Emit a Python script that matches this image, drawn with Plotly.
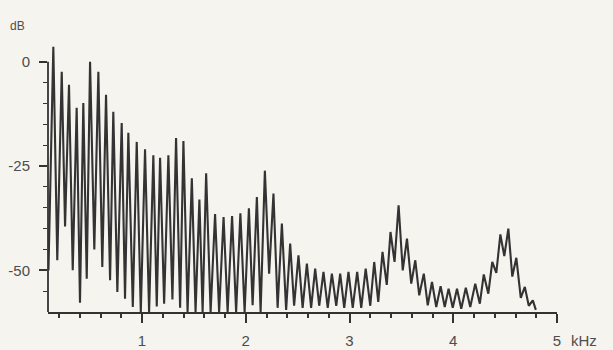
import plotly.graph_objects as go

# Harmonic peaks (frequency in kHz, level in dB)
peak_khz = [0.145, 0.226, 0.296, 0.370, 0.434, 0.499, 0.579, 0.653, 0.723, 0.804,
            0.868, 0.949, 1.029, 1.109, 1.174, 1.254, 1.328, 1.399, 1.480, 1.553,
            1.618, 1.704, 1.786, 1.868, 1.948, 2.030, 2.107, 2.184, 2.267, 2.348,
            2.428, 2.508, 2.589, 2.669, 2.749, 2.830, 2.910, 2.990, 3.074, 3.156,
            3.238, 3.318, 3.395, 3.473, 3.554, 3.634, 3.716, 3.795, 3.878, 3.955,
            4.036, 4.121, 4.212, 4.294, 4.376, 4.454, 4.531, 4.608, 4.690, 4.767]
peak_db = [3.6, -2.4, -5.5, -11.0, -9.9, 0.0, -2.4, -7.9, -12.0, -14.7,
           -17.0, -19.2, -21.0, -22.4, -23.0, -22.4, -18.3, -19.0, -27.9, -33.0,
           -26.7, -36.5, -37.2, -37.0, -36.3, -35.1, -32.4, -26.1, -31.6, -38.8,
           -43.6, -46.4, -48.4, -49.6, -50.4, -50.8, -50.8, -50.4, -50.4, -49.6,
           -48.0, -45.6, -40.8, -34.4, -42.4, -47.6, -50.8, -52.8, -53.8, -54.4,
           -54.4, -54.2, -53.2, -51.0, -48.0, -41.4, -40.0, -47.0, -54.0, -57.2]

# Valleys between the harmonics
trough_khz = [0.098, 0.183, 0.258, 0.332, 0.402, 0.467, 0.540, 0.617, 0.692, 0.762,
              0.836, 0.911, 0.988, 1.068, 1.142, 1.213, 1.293, 1.367, 1.439, 1.516,
              1.584, 1.661, 1.743, 1.825, 1.907, 1.989, 2.066, 2.143, 2.225, 2.307,
              2.389, 2.466, 2.548, 2.630, 2.708, 2.790, 2.872, 2.949, 3.031, 3.113,
              3.200, 3.277, 3.359, 3.434, 3.513, 3.595, 3.672, 3.754, 3.836, 3.918,
              3.995, 4.077, 4.164, 4.256, 4.338, 4.415, 4.492, 4.569, 4.651, 4.728,
              4.796]
trough_db = [-50.0, -47.6, -39.5, -50.0, -57.8, -52.0, -45.0, -49.2, -52.4, -55.2,
             -56.8, -58.8, -60.0, -60.0, -58.7, -58.0, -57.0, -59.0, -60.0, -60.0,
             -60.0, -60.0, -60.0, -60.0, -60.0, -60.0, -58.4, -60.0, -50.8, -59.0,
             -59.5, -58.5, -59.0, -59.0, -58.5, -59.0, -58.5, -59.0, -59.0, -59.0,
             -58.5, -57.6, -53.5, -48.0, -50.0, -53.2, -56.0, -58.4, -58.8, -58.8,
             -59.0, -59.2, -58.8, -58.0, -55.6, -50.6, -46.6, -51.5, -56.6, -58.5,
             -59.5]

x_tick_vals = [1, 2, 3, 4, 5]
x_tick_text = ["1", "2", "3", "4", "5"]
y_tick_vals = [0, -25, -50]
y_tick_text = ["0", "-25", "-50"]
y_minor_vals = [-5, -10, -15, -20, -30, -35, -40, -45, -55]

pts = sorted(zip(peak_khz + trough_khz, peak_db + trough_db))
xs = [p[0] for p in pts]
ys = [p[1] for p in pts]

INK = "#333333"
TXT = "#4d4d4d"
BG = "#f5f4ef"
FONT = "Liberation Sans, Arial, sans-serif"

fig = go.Figure()
fig.add_trace(go.Scatter(x=xs, y=ys, mode="lines",
                         line=dict(color=INK, width=2.1),
                         hoverinfo="skip", showlegend=False))

fig.update_layout(
    width=613, height=350,
    margin=dict(l=48, r=56, t=41, b=38),
    paper_bgcolor=BG, plot_bgcolor=BG,
    font=dict(family=FONT, size=15, color=TXT),
    showlegend=False,
)
fig.update_xaxes(
    range=[0.0936, 5.0], showgrid=False, zeroline=False, automargin=False,
    showline=True, linecolor=INK, linewidth=1.8,
    tickvals=x_tick_vals, ticktext=x_tick_text,
    ticks="outside", ticklen=9, tickwidth=1.5, tickcolor=INK,
    ticklabelstandoff=5,
    minor=dict(dtick=0.2, tick0=0, ticks="outside", ticklen=4,
               tickwidth=1.5, tickcolor=INK, showgrid=False),
)
fig.update_yaxes(
    range=[-60, 5], showgrid=False, zeroline=False, showline=False, automargin=False,
    tickvals=y_tick_vals, ticktext=y_tick_text,
    ticks="outside", ticklen=8, tickwidth=1.5, tickcolor=INK,
    ticklabelstandoff=6,
    minor=dict(tickvals=y_minor_vals, ticks="outside", ticklen=4,
               tickwidth=1.2, tickcolor=INK, showgrid=False),
)
# vertical axis line only from -60 dB up to 0 dB
fig.add_shape(type="line", xref="paper", yref="y", x0=0, x1=0,
              y0=-60, y1=0, line=dict(color=INK, width=1.8))

fig.add_annotation(text="dB", xref="paper", yref="paper", x=0, y=1,
                   xanchor="right", yanchor="bottom", xshift=-21, yshift=6,
                   showarrow=False, font=dict(family=FONT, size=12, color=TXT))
fig.add_annotation(text="kHz", xref="x", yref="paper", x=5, y=0,
                   xanchor="left", yanchor="top", xshift=12, yshift=-18,
                   showarrow=False, font=dict(family=FONT, size=15, color=TXT))

fig.write_html("out.html")
